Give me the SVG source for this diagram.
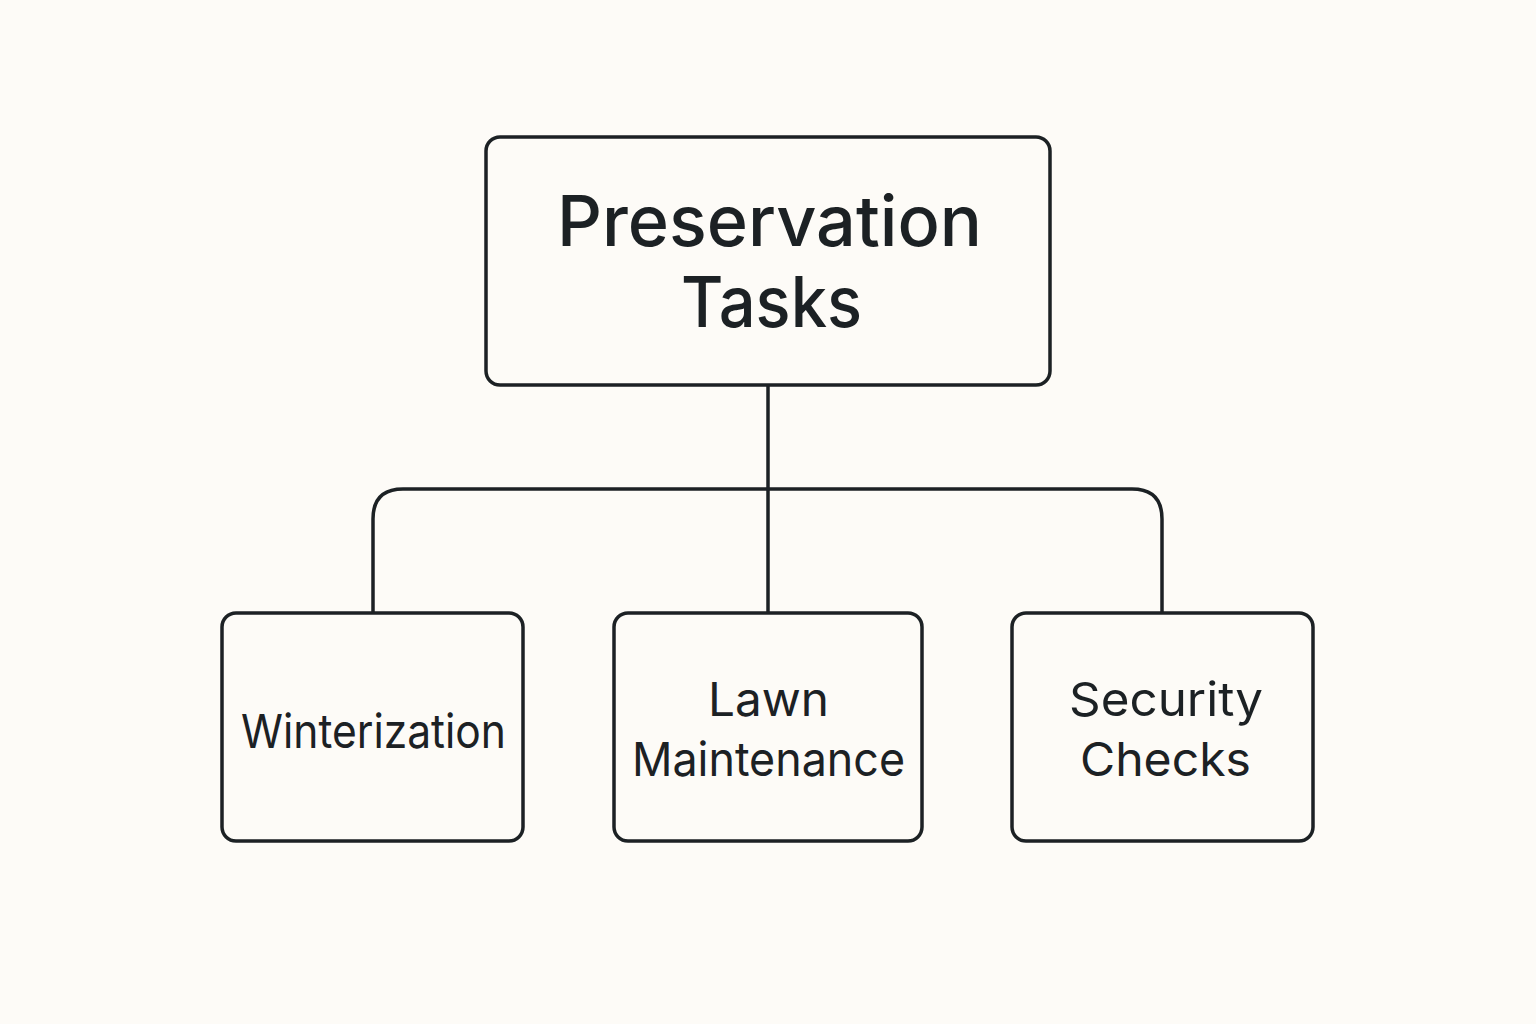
<svg xmlns="http://www.w3.org/2000/svg" width="1536" height="1024" viewBox="0 0 1536 1024">
<style>
.box{fill:#fdfbf7;stroke:#1c2124;stroke-width:3.5}
.conn{fill:none;stroke:#1c2124;stroke-width:3.5}
.t{font-family:Inter,"Noto Sans","Liberation Sans",sans-serif;fill:#1c2124;text-anchor:middle}
.big{font-size:70px;font-weight:500}
.sm{font-size:47px}
</style>
<rect width="1536" height="1024" fill="#fdfbf7"/>
<g id="connectors">
<path class="conn" d="M768 385 V612"/>
<path class="conn" d="M373 612 V519 Q373 489 403 489 H1132 Q1162 489 1162 519 V612"/>
</g>
<g id="root">
<rect class="box" x="486" y="137" width="564" height="248" rx="14"/>
<text class="t big" x="769.5" y="246" textLength="425" lengthAdjust="spacingAndGlyphs">Preservation</text>
<text class="t big" x="771.5" y="327" textLength="181" lengthAdjust="spacingAndGlyphs">Tasks</text>
</g>
<g id="winterization">
<rect class="box" x="222" y="613" width="301" height="228" rx="14"/>
<text class="t sm" x="373.5" y="748" textLength="265" lengthAdjust="spacingAndGlyphs">Winterization</text>
</g>
<g id="lawn">
<rect class="box" x="614" y="613" width="308" height="228" rx="14"/>
<text class="t sm" x="768.5" y="716" textLength="121" lengthAdjust="spacingAndGlyphs">Lawn</text>
<text class="t sm" x="768.5" y="776" textLength="273" lengthAdjust="spacingAndGlyphs">Maintenance</text>
</g>
<g id="security">
<rect class="box" x="1012" y="613" width="301" height="228" rx="14"/>
<text class="t sm" x="1166" y="716" textLength="194" lengthAdjust="spacingAndGlyphs">Security</text>
<text class="t sm" x="1165.5" y="776" textLength="171" lengthAdjust="spacingAndGlyphs">Checks</text>
</g>
</svg>
